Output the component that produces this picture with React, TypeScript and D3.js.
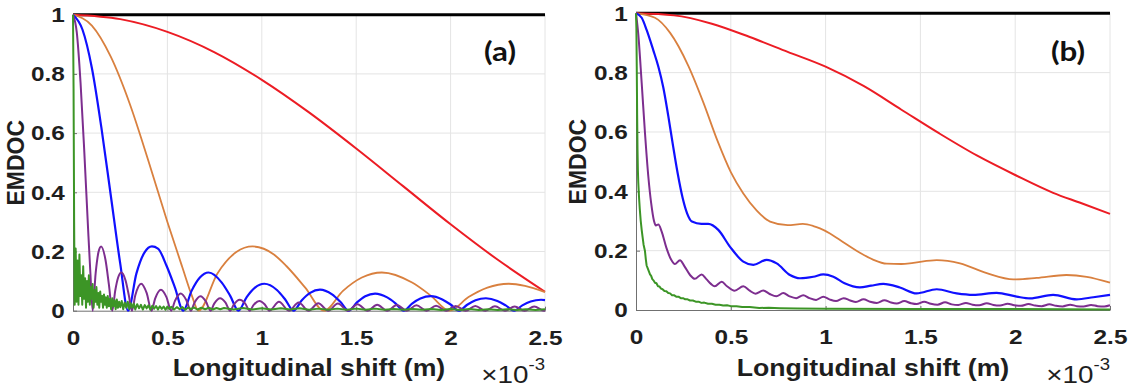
import { useEffect, useRef } from "react";
import * as d3 from "d3";

type Pt = [number, number];

// x in units of 1e-3 m, y = EMDOC
const xTicks = [0, 0.5, 1, 1.5, 2, 2.5];
const yTicks = [0, 0.2, 0.4, 0.6, 0.8, 1];

// ---- panel (a) ----
const blackA: Pt[] = [[0, 1], [2.5, 1]];

const redA: Pt[] = [
  [0, 1], [0.25, 0.985], [0.5, 0.942], [0.75, 0.873], [1.0, 0.78], [1.25, 0.67],
  [1.5, 0.548], [1.75, 0.42], [2.0, 0.292], [2.25, 0.172], [2.5, 0.064],
];

const orangeA: Pt[] = [
  [0, 1], [0.1, 0.963], [0.2, 0.858], [0.3, 0.7], [0.4, 0.505], [0.5, 0.3], [0.58, 0.145], [0.63, 0.05], [0.665, 0],
  [0.765, 0.126], [0.865, 0.198], [0.951, 0.217], [1.064, 0.19], [1.13, 0.151], [1.23, 0.078], [1.33, 0],
  [1.43, 0.067], [1.53, 0.112], [1.636, 0.129], [1.796, 0.095], [1.895, 0.051], [1.995, 0],
  [2.095, 0.046], [2.195, 0.078], [2.308, 0.091], [2.394, 0.084], [2.5, 0.063],
];

const blueA: Pt[] = [
  [0, 1], [0.05, 0.95], [0.1, 0.82], [0.15, 0.62], [0.2, 0.39], [0.25, 0.16], [0.292, 0],
  [0.336, 0.126], [0.38, 0.198], [0.418, 0.217], [0.45, 0.21], [0.496, 0.151], [0.54, 0.078], [0.584, 0],
  [0.628, 0.067], [0.672, 0.112], [0.718, 0.129], [0.788, 0.095], [0.832, 0.051], [0.876, 0],
  [0.92, 0.046], [0.964, 0.078], [1.013, 0.091], [1.08, 0.07], [1.124, 0.038], [1.168, 0],
  [1.212, 0.035], [1.256, 0.06], [1.308, 0.071], [1.372, 0.055], [1.416, 0.03], [1.46, 0],
  [1.504, 0.028], [1.548, 0.049], [1.6, 0.058], [1.664, 0.045], [1.708, 0.025], [1.752, 0],
  [1.796, 0.024], [1.84, 0.041], [1.895, 0.049], [1.956, 0.038], [2.0, 0.021], [2.044, 0],
  [2.088, 0.02], [2.132, 0.035], [2.187, 0.042], [2.248, 0.033], [2.292, 0.018], [2.336, 0],
  [2.38, 0.018], [2.424, 0.031], [2.479, 0.037], [2.5, 0.036],
];

const purpleA: Pt[] = [
  [0, 1], [0.02, 0.94], [0.04, 0.77], [0.06, 0.535], [0.08, 0.275], [0.092, 0.128], [0.104, 0],
  [0.12, 0.127], [0.135, 0.198], [0.149, 0.217], [0.172, 0.172], [0.19, 0.089], [0.208, 0],
  [0.224, 0.069], [0.239, 0.112], [0.256, 0.129], [0.278, 0.103], [0.296, 0.051], [0.312, 0],
  [0.33, 0.052], [0.361, 0.091], [0.39, 0.06], [0.416, 0],
  [0.435, 0.041], [0.466, 0.071], [0.495, 0.046], [0.52, 0],
  [0.54, 0.033], [0.57, 0.058], [0.6, 0.036], [0.624, 0],
  [0.644, 0.028], [0.675, 0.049], [0.704, 0.031], [0.728, 0],
  [0.748, 0.024], [0.779, 0.042], [0.808, 0.027], [0.832, 0],
  [0.852, 0.021], [0.883, 0.037], [0.912, 0.024], [0.936, 0],
  [0.956, 0.019], [0.987, 0.033], [1.016, 0.021], [1.04, 0],
  [1.091, 0.03], [1.144, 0], [1.195, 0.028], [1.248, 0], [1.299, 0.025], [1.352, 0],
  [1.403, 0.024], [1.456, 0], [1.507, 0.022], [1.56, 0], [1.611, 0.02], [1.664, 0],
  [1.715, 0.019], [1.768, 0], [1.819, 0.018], [1.872, 0], [1.923, 0.017], [1.976, 0],
  [2.027, 0.016], [2.08, 0], [2.131, 0.016], [2.184, 0], [2.235, 0.015], [2.288, 0],
  [2.339, 0.014], [2.392, 0], [2.443, 0.014], [2.496, 0], [2.5, 0.001],
];

const greenA: Pt[] = [
  [0, 1], [0.003, 0.75], [0.006, 0.3], [0.009, 0.02], [0.014, 0.21], [0.019, 0.03], [0.024, 0.17],
  [0.029, 0.02], [0.034, 0.19], [0.039, 0.05], [0.044, 0.12], [0.049, 0.02], [0.054, 0.15],
  [0.059, 0.04], [0.064, 0.11], [0.069, 0.01], [0.074, 0.1], [0.079, 0.03], [0.084, 0.12],
  [0.089, 0.02], [0.094, 0.08], [0.099, 0.04], [0.104, 0.09], [0.109, 0.01], [0.114, 0.07],
  [0.119, 0.03], [0.124, 0.08], [0.129, 0.02], [0.134, 0.06], [0.139, 0.01], [0.144, 0.065],
  [0.149, 0.03], [0.154, 0.05], [0.159, 0.01], [0.164, 0.055], [0.169, 0.02], [0.174, 0.045],
  [0.179, 0.01], [0.184, 0.05], [0.19, 0.015], [0.196, 0.04], [0.202, 0.005], [0.208, 0.042],
  [0.214, 0.015], [0.22, 0.035], [0.226, 0.005], [0.232, 0.038], [0.238, 0.01], [0.244, 0.03],
  [0.25, 0.012], [0.258, 0.033], [0.266, 0.005], [0.274, 0.028], [0.282, 0.01], [0.29, 0.03],
  [0.298, 0.006], [0.306, 0.025], [0.314, 0.01], [0.322, 0.024], [0.33, 0.004], [0.34, 0.022],
  [0.35, 0.008], [0.36, 0.02], [0.37, 0.004], [0.38, 0.019], [0.39, 0.008], [0.4, 0.018],
  [0.41, 0.003], [0.42, 0.017], [0.43, 0.007], [0.44, 0.016], [0.45, 0.004], [0.46, 0.015],
  [0.47, 0.006], [0.48, 0.014], [0.49, 0.003], [0.5, 0.014], [0.51, 0.006], [0.52, 0.013],
  [0.535, 0.004], [0.55, 0.012], [0.565, 0.005], [0.58, 0.012], [0.595, 0.003], [0.61, 0.011],
  [0.625, 0.005], [0.64, 0.011], [0.66, 0.004], [0.68, 0.01], [0.7, 0.005], [0.72, 0.01],
  [0.74, 0.004], [0.76, 0.009], [0.78, 0.005], [0.8, 0.009], [0.85, 0.004], [0.9, 0.009],
  [0.95, 0.004], [1.0, 0.008], [1.05, 0.004], [1.1, 0.008], [1.15, 0.004], [1.2, 0.008],
  [1.25, 0.003], [1.3, 0.007], [1.35, 0.003], [1.4, 0.007], [1.45, 0.003], [1.5, 0.007],
  [1.55, 0.003], [1.6, 0.007], [1.65, 0.003], [1.7, 0.006], [1.75, 0.003], [1.8, 0.006],
  [1.85, 0.003], [1.9, 0.006], [1.95, 0.002], [2.0, 0.006], [2.05, 0.002], [2.1, 0.006],
  [2.15, 0.002], [2.2, 0.005], [2.25, 0.002], [2.3, 0.005], [2.35, 0.002], [2.4, 0.005],
  [2.45, 0.002], [2.5, 0.005],
];

// ---- panel (b) ----
const blackB: Pt[] = [[0, 1], [2.5, 1]];

const redB: Pt[] = [
  [0, 1], [0.2, 0.993], [0.4, 0.965], [0.6, 0.92], [0.8, 0.87], [1.0, 0.82], [1.2, 0.755],
  [1.4, 0.675], [1.6, 0.595], [1.8, 0.52], [2.0, 0.455], [2.2, 0.395], [2.35, 0.36], [2.5, 0.324],
];

const orangeB: Pt[] = [
  [0, 1], [0.1, 0.985], [0.18, 0.934], [0.276, 0.823], [0.355, 0.7], [0.43, 0.57], [0.5, 0.465],
  [0.566, 0.393], [0.637, 0.335], [0.707, 0.298], [0.8, 0.286], [0.88, 0.29], [0.935, 0.283],
  [0.97, 0.275], [1.023, 0.258], [1.076, 0.236], [1.181, 0.193], [1.25, 0.17], [1.322, 0.156],
  [1.4, 0.155], [1.463, 0.159], [1.586, 0.168], [1.709, 0.157], [1.85, 0.124], [1.99, 0.103],
  [2.113, 0.108], [2.27, 0.118], [2.377, 0.112], [2.5, 0.092],
];

const blueB: Pt[] = [
  [0, 1], [0.03, 0.985], [0.056, 0.944], [0.091, 0.876], [0.118, 0.82], [0.144, 0.75],
  [0.17, 0.655], [0.195, 0.555], [0.22, 0.46], [0.247, 0.375], [0.27, 0.325], [0.295, 0.298],
  [0.345, 0.29], [0.381, 0.29], [0.434, 0.27], [0.496, 0.213], [0.566, 0.163], [0.619, 0.152],
  [0.689, 0.169], [0.742, 0.157], [0.812, 0.118], [0.865, 0.107], [0.935, 0.112], [0.988, 0.12],
  [1.041, 0.112], [1.1, 0.09], [1.181, 0.076], [1.24, 0.082], [1.304, 0.088], [1.392, 0.076],
  [1.48, 0.056], [1.586, 0.07], [1.691, 0.056], [1.779, 0.051], [1.902, 0.058], [2.008, 0.045],
  [2.078, 0.039], [2.2, 0.051], [2.324, 0.036], [2.412, 0.043], [2.5, 0.051],
];

const purpleB: Pt[] = [
  [0, 1], [0.012, 0.93], [0.03, 0.765], [0.047, 0.6], [0.065, 0.45], [0.08, 0.36], [0.095, 0.3],
  [0.105, 0.285], [0.118, 0.288], [0.135, 0.265], [0.16, 0.21], [0.185, 0.17], [0.205, 0.155],
  [0.232, 0.168], [0.255, 0.148], [0.285, 0.118], [0.31, 0.105], [0.346, 0.12], [0.37, 0.105],
  [0.395, 0.088], [0.415, 0.08], [0.452, 0.095], [0.48, 0.08], [0.52, 0.065], [0.566, 0.08],
  [0.6, 0.065], [0.63, 0.055], [0.671, 0.066], [0.705, 0.054], [0.74, 0.046], [0.777, 0.057],
  [0.81, 0.046], [0.845, 0.04], [0.882, 0.05], [0.915, 0.04], [0.95, 0.034], [0.988, 0.045],
  [1.02, 0.036], [1.055, 0.03], [1.095, 0.04], [1.13, 0.032], [1.16, 0.027], [1.2, 0.036],
  [1.235, 0.028], [1.27, 0.024], [1.31, 0.033], [1.345, 0.025], [1.375, 0.022], [1.415, 0.03],
  [1.45, 0.023], [1.48, 0.02], [1.52, 0.028], [1.555, 0.021], [1.59, 0.018], [1.63, 0.026],
  [1.665, 0.019], [1.7, 0.017], [1.74, 0.024], [1.775, 0.018], [1.81, 0.016], [1.85, 0.023],
  [1.885, 0.017], [1.92, 0.015], [1.96, 0.021], [1.995, 0.016], [2.03, 0.014], [2.07, 0.02],
  [2.105, 0.015], [2.14, 0.013], [2.18, 0.019], [2.215, 0.014], [2.25, 0.012], [2.29, 0.018],
  [2.325, 0.013], [2.36, 0.012], [2.4, 0.017], [2.435, 0.013], [2.47, 0.012], [2.5, 0.016],
];

const greenB: Pt[] = [
  [0, 1], [0.002, 0.95], [0.004, 0.82], [0.006, 0.66], [0.008, 0.54], [0.01, 0.47], [0.012, 0.43],
  [0.016, 0.38], [0.02, 0.34], [0.025, 0.3], [0.03, 0.27], [0.035, 0.245], [0.04, 0.22],
  [0.047, 0.2], [0.052, 0.17], [0.056, 0.15], [0.062, 0.14], [0.068, 0.13], [0.074, 0.12],
  [0.08, 0.115], [0.086, 0.104], [0.092, 0.1], [0.1, 0.092], [0.108, 0.09], [0.116, 0.08],
  [0.124, 0.079], [0.132, 0.072], [0.14, 0.07], [0.15, 0.064], [0.16, 0.063], [0.17, 0.057],
  [0.18, 0.056], [0.19, 0.05], [0.2, 0.05], [0.212, 0.045], [0.224, 0.045], [0.236, 0.04],
  [0.248, 0.04], [0.26, 0.036], [0.272, 0.036], [0.285, 0.032], [0.3, 0.032], [0.315, 0.028],
  [0.33, 0.028], [0.345, 0.024], [0.36, 0.025], [0.38, 0.021], [0.4, 0.021], [0.42, 0.018],
  [0.44, 0.018], [0.46, 0.015], [0.48, 0.016], [0.5, 0.013], [0.53, 0.013], [0.56, 0.01],
  [0.6, 0.01], [0.65, 0.007], [0.7, 0.0075], [0.76, 0.006], [0.85, 0.005], [1.0, 0.004],
  [1.5, 0.003], [2.0, 0.003], [2.5, 0.002],
];

// line styles, drawn bottom to top
const lineStyles = [
  { color: "#000000", width: 3 },
  { color: "#ec1c24", width: 2 },
  { color: "#d9803f", width: 1.8 },
  { color: "#1010ff", width: 2.2 },
  { color: "#7d2e8f", width: 2 },
  { color: "#3c9526", width: 2 },
];

const SX = 1.16; // horizontal text stretch
const SANS = "'Liberation Sans', Arial, sans-serif";

const panels = [
  {
    tag: "(a)",
    left: 73, right: 545, top: 14.7, bottom: 310.7,
    yTitleX: 24, tagX: 500,
    series: [blackA, redA, orangeA, blueA, purpleA, greenA],
  },
  {
    tag: "(b)",
    left: 636, right: 1110, top: 13.3, bottom: 310,
    yTitleX: 586, tagX: 1068,
    series: [blackB, redB, orangeB, blueB, purpleB, greenB],
  },
];

export default function App() {
  const svgRef = useRef<SVGSVGElement>(null);

  useEffect(() => {
    if (!svgRef.current) return;
    const svg = d3.select(svgRef.current);
    svg.selectAll("*").remove();

    panels.forEach((p) => {
      const x = d3.scaleLinear().domain([0, 2.5]).range([p.left, p.right]);
      const y = d3.scaleLinear().domain([0, 1]).range([p.bottom, p.top]);
      const g = svg.append("g");

      // grid
      g.append("g")
        .selectAll("line")
        .data(xTicks.slice(1))
        .join("line")
        .attr("x1", (d) => x(d))
        .attr("x2", (d) => x(d))
        .attr("y1", y(0))
        .attr("y2", y(1))
        .attr("stroke", "#e4e4e4");
      g.append("g")
        .selectAll("line")
        .data(yTicks.slice(1))
        .join("line")
        .attr("x1", x(0))
        .attr("x2", x(2.5))
        .attr("y1", (d) => y(d))
        .attr("y2", (d) => y(d))
        .attr("stroke", "#e4e4e4");

      // axes
      const xAxis = g
        .append("g")
        .attr("transform", `translate(0,${y(0)})`)
        .call(
          d3.axisBottom(x).tickValues(xTicks).tickFormat((d) => String(d))
            .tickSize(-4).tickSizeOuter(0).tickPadding(19),
        );
      const yAxis = g
        .append("g")
        .attr("transform", `translate(${x(0)},0)`)
        .call(
          d3.axisLeft(y).tickValues(yTicks).tickFormat((d) => String(d))
            .tickSize(-4).tickSizeOuter(0).tickPadding(7),
        );
      [xAxis, yAxis].forEach((ax) => {
        ax.select(".domain").attr("stroke", "#707070");
        ax.selectAll(".tick line").attr("stroke", "#707070");
        ax.selectAll(".tick text")
          .attr("transform", `scale(${SX},1)`)
          .attr("font-family", SANS)
          .attr("font-weight", "bold")
          .attr("font-size", 21)
          .attr("fill", "#1e1e1e");
      });

      // curves
      const line = d3
        .line<Pt>()
        .x((d) => x(d[0]))
        .y((d) => y(d[1]));
      p.series.forEach((data, i) => {
        const st = lineStyles[i];
        g.append("path")
          .datum(data)
          .attr("fill", "none")
          .attr("stroke", st.color)
          .attr("stroke-width", st.width)
          .attr("stroke-linejoin", "round")
          .attr("d", line.curve(i === 5 ? d3.curveLinear : d3.curveMonotoneX)(data));
      });

      // titles
      g.append("text")
        .attr("transform", `translate(${p.yTitleX},${(p.top + p.bottom) / 2}) rotate(-90)`)
        .attr("text-anchor", "middle")
        .attr("font-family", SANS)
        .attr("font-weight", "bold")
        .attr("font-size", 23)
        .attr("fill", "#1e1e1e")
        .text("EMDOC");
      g.append("text")
        .attr("transform", `translate(${(p.left + p.right) / 2},376) scale(${SX},1)`)
        .attr("text-anchor", "middle")
        .attr("font-family", SANS)
        .attr("font-weight", "bold")
        .attr("font-size", 23)
        .attr("fill", "#1e1e1e")
        .text("Longitudinal shift (m)");
      const ex = g
        .append("text")
        .attr("transform", `translate(${p.right},383) scale(${SX},1)`)
        .attr("text-anchor", "end")
        .attr("font-family", SANS)
        .attr("font-size", 24)
        .attr("fill", "#1e1e1e");
      ex.append("tspan").text("×10");
      ex.append("tspan").attr("font-size", 16).attr("dy", -13).text("-3");

      g.append("text")
        .attr("transform", `translate(${p.tagX},61) scale(${SX},1)`)
        .attr("text-anchor", "middle")
        .attr("font-family", "Lato, 'Open Sans', sans-serif")
        .attr("font-weight", "bold")
        .attr("font-size", 27)
        .attr("fill", "#111")
        .text(p.tag);
    });
  }, []);

  return (
    <div style={{ position: "absolute", left: 0, top: 0, background: "#fff" }}>
      <svg ref={svgRef} width={1142} height={392} style={{ display: "block" }} />
    </div>
  );
}
